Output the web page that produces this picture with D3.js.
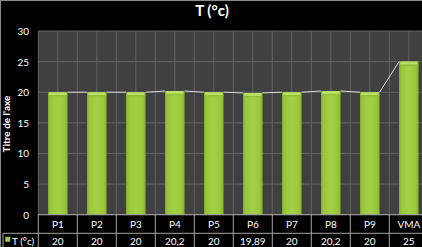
<!DOCTYPE html>
<html>
<head>
  <meta charset="utf-8">
  <script src="https://d3js.org/d3.v7.min.js"></script>
  <style>
    body { margin: 0; background: #000; }
    text { font-family: Lato, "Open Sans", sans-serif; fill: #fff; }
  </style>
</head>
<body>
  <svg width="422" height="247"></svg>
  <script>
    var categories = ["P1", "P2", "P3", "P4", "P5", "P6", "P7", "P8", "P9", "VMA"];
    var values = [20, 20, 20, 20.2, 20, 19.89, 20, 20.2, 20, 25];
    var valueLabels = ["20", "20", "20", "20,2", "20", "19,89", "20", "20,2", "20", "25"];
    var yTicks = [0, 5, 10, 15, 20, 25, 30];
    var seriesName = "T (°c)";

    var svg = d3.select("svg");
    var plotLeft = 38.3, bandW = 39, plotTop = 31, plotBottom = 214.7;
    var row1 = 233.3, row2 = 252;

    svg.append("rect").attr("width", 422).attr("height", 247).attr("fill", "#000");

    var x = d3.scaleBand()
        .domain(categories)
        .range([plotLeft, plotLeft + bandW * categories.length]);

    var y = d3.scaleLinear()
        .domain([0, 30])
        .range([plotBottom, plotTop]);

    // gradient for the bars
    var defs = svg.append("defs");
    var grad = defs.append("linearGradient").attr("id", "barGrad")
        .attr("x1", "0").attr("x2", "1").attr("y1", "0").attr("y2", "0");
    grad.append("stop").attr("offset", "0").attr("stop-color", "#86b131");
    grad.append("stop").attr("offset", "0.15").attr("stop-color", "#9ac83c");
    grad.append("stop").attr("offset", "0.5").attr("stop-color", "#a3d145");
    grad.append("stop").attr("offset", "0.85").attr("stop-color", "#9ac83c");
    grad.append("stop").attr("offset", "1").attr("stop-color", "#86b131");

    // plot area
    svg.append("rect")
        .attr("x", plotLeft).attr("y", plotTop)
        .attr("width", bandW * categories.length).attr("height", plotBottom - plotTop)
        .attr("fill", "#404040");

    // horizontal gridlines
    svg.append("g").selectAll("line")
        .data(yTicks)
        .join("line")
        .attr("x1", plotLeft).attr("x2", 430)
        .attr("y1", function(d) { return y(d); })
        .attr("y2", function(d) { return y(d); })
        .attr("stroke", "#626262").attr("stroke-width", 1);

    // vertical gridlines (boundaries and centres)
    var vlines = [];
    categories.forEach(function(c) {
      vlines.push(x(c));
      vlines.push(x(c) + x.bandwidth() / 2);
    });
    svg.append("g").selectAll("line")
        .data(vlines)
        .join("line")
        .attr("x1", function(d) { return d; }).attr("x2", function(d) { return d; })
        .attr("y1", plotTop).attr("y2", plotBottom)
        .attr("stroke", "#626262").attr("stroke-width", 1);

    // bars
    var bw = x.bandwidth() / 2;
    var bars = svg.append("g").selectAll("g")
        .data(values)
        .join("g");
    bars.append("rect")
        .attr("x", function(d, i) { return x(categories[i]) + bw / 2; })
        .attr("y", function(d) { return y(d); })
        .attr("width", bw)
        .attr("height", function(d) { return plotBottom - y(d); })
        .attr("fill", "url(#barGrad)");
    bars.append("rect")
        .attr("x", function(d, i) { return x(categories[i]) + bw / 2 + 1; })
        .attr("y", function(d) { return y(d); })
        .attr("width", bw - 2)
        .attr("height", 3)
        .attr("rx", 1)
        .attr("fill", "#b9e062");
    bars.append("line")
        .attr("x1", function(d, i) { return x(categories[i]) + bw / 2; })
        .attr("x2", function(d, i) { return x(categories[i]) + bw * 1.5; })
        .attr("y1", function(d) { return y(d) + 3.5; })
        .attr("y2", function(d) { return y(d) + 3.5; })
        .attr("stroke", "#8fbb36").attr("stroke-width", 1);

    // series lines
    var segs = d3.pairs(values.map(function(v, i) { return [categories[i], v]; }));
    svg.append("g").selectAll("line")
        .data(segs)
        .join("line")
        .attr("x1", function(d) { return x(d[0][0]) + bw * 1.5; })
        .attr("y1", function(d) { return y(d[0][1]); })
        .attr("x2", function(d) { return x(d[1][0]) + bw / 2; })
        .attr("y2", function(d) { return y(d[1][1]); })
        .attr("stroke", "#d9d9d9").attr("stroke-width", 1);

    // y tick labels
    svg.append("g").selectAll("text")
        .data(yTicks)
        .join("text")
        .attr("x", 29)
        .attr("y", function(d) { return y(d) + 4; })
        .attr("text-anchor", "end")
        .attr("font-size", 10)
        .text(function(d) { return d; });

    // axis title
    svg.append("text")
        .attr("transform", "translate(9.5,124) rotate(-90)")
        .attr("text-anchor", "middle")
        .attr("font-size", 10)
        .attr("font-weight", "bold")
        .text("Titre de l'axe");

    // chart title
    svg.append("text")
        .attr("x", 212).attr("y", 15.5)
        .attr("text-anchor", "middle")
        .attr("font-size", 15)
        .attr("font-weight", "bold")
        .text("T (°c)");

    // data table
    var tbl = svg.append("g");
    var tcol = "#a6a6a6";
    tbl.append("line").attr("x1", plotLeft).attr("x2", 430).attr("y1", plotBottom).attr("y2", plotBottom)
        .attr("stroke", tcol);
    tbl.append("line").attr("x1", 3).attr("x2", 430).attr("y1", row1).attr("y2", row1)
        .attr("stroke", tcol);
    tbl.selectAll(".v1")
        .data(categories)
        .join("line")
        .attr("x1", function(d) { return x(d); }).attr("x2", function(d) { return x(d); })
        .attr("y1", plotBottom).attr("y2", row2)
        .attr("stroke", tcol);
    tbl.append("line").attr("x1", 3).attr("x2", 3).attr("y1", row1).attr("y2", row2)
        .attr("stroke", tcol);

    tbl.selectAll(".cat")
        .data(categories)
        .join("text")
        .attr("x", function(d) { return x(d) + x.bandwidth() / 2; })
        .attr("y", 228)
        .attr("text-anchor", "middle")
        .attr("font-size", 10)
        .text(function(d) { return d; });

    tbl.selectAll(".val")
        .data(valueLabels)
        .join("text")
        .attr("x", function(d, i) { return x(categories[i]) + x.bandwidth() / 2; })
        .attr("y", 245)
        .attr("text-anchor", "middle")
        .attr("font-size", 10)
        .text(function(d) { return d; });

    tbl.append("rect").attr("x", 5.5).attr("y", 237).attr("width", 4.5).attr("height", 4.5)
        .attr("fill", "#a3d145").attr("stroke", "#86b131").attr("stroke-width", 0.5);
    tbl.append("text").attr("x", 12).attr("y", 245).attr("font-size", 10).text(seriesName);

    // outer border
    svg.append("rect").attr("x", 0.5).attr("y", 0.5).attr("width", 440).attr("height", 260)
        .attr("fill", "none").attr("stroke", "#8c8c8c");
  </script>
</body>
</html>
